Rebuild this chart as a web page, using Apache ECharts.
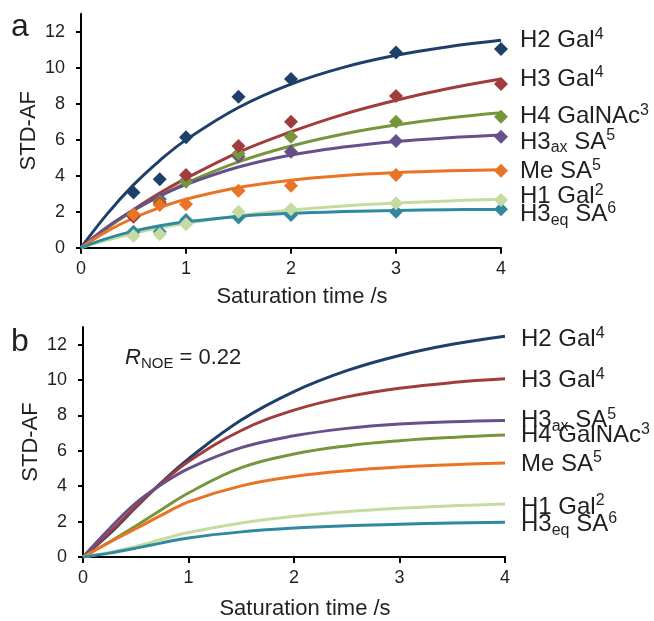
<!DOCTYPE html>
<html>
<head>
<meta charset="utf-8">
<script src="https://cdn.jsdelivr.net/npm/echarts@6/dist/echarts.min.js"></script>
<style>
html, body { margin: 0; padding: 0; background: #fff; }
#chart { width: 654px; height: 621px; }
</style>
</head>
<body>
<div id="chart"></div>
<script>
// measured saturation times (s) and the time grid used to read the fitted curves
const tPts = [0.5, 0.75, 1, 1.5, 2, 3, 4];
const tFit = [0, 0.25, 0.5, 0.75, 1, 1.5, 2, 2.5, 3, 3.5, 4];
const xTicks = [0, 1, 2, 3, 4];
const yTicks = [0, 2, 4, 6, 8, 10, 12];

// panel a: experimental STD-AF points
const h2GalPts = [3.06, 3.80, 6.13, 8.39, 9.37, 10.85, 11.04];
const h3GalPts = [1.72, 2.45, 4.04, 5.65, 7.00, 8.43, 9.09];
const h4GalNAcPts = [1.85, 2.55, 3.67, 5.24, 6.17, 7.00, 7.28];
const h3axSAPts = [1.80, 2.69, 3.72, 5.06, 5.33, 5.93, 6.17];
const meSAPts = [1.85, 2.37, 2.41, 3.17, 3.44, 4.04, 4.28];
const h1GalPts = [0.65, 0.75, 1.30, 2.00, 2.13, 2.47, 2.65];
const h3eqSAPts = [0.89, 0.89, 1.54, 1.68, 1.81, 2.00, 2.13];

// panel a: fitted curves
const h2GalFit = [0, 1.88, 3.49, 4.84, 5.99, 7.79, 9.09, 10.02, 10.69, 11.17, 11.52];
const h3GalFit = [0, 1.11, 2.11, 3.03, 3.85, 5.30, 6.44, 7.41, 8.19, 8.84, 9.37];
const h4GalNAcFit = [0, 1.10, 2.05, 2.87, 3.59, 4.77, 5.65, 6.32, 6.82, 7.21, 7.50];
const h3axSAFit = [0, 1.15, 2.09, 2.87, 3.51, 4.48, 5.15, 5.59, 5.90, 6.11, 6.26];
const meSAFit = [0, 0.92, 1.65, 2.23, 2.69, 3.34, 3.75, 4.01, 4.17, 4.27, 4.33];
const h1GalFit = [0, 0.42, 0.79, 1.10, 1.36, 1.78, 2.09, 2.32, 2.48, 2.60, 2.69];
const h3eqSAFit = [0, 0.52, 0.92, 1.22, 1.44, 1.74, 1.91, 2.01, 2.07, 2.11, 2.12];

// panel b: simulated curves (R_NOE = 0.22)
const h2GalSim = [0, 1.30, 2.80, 4.25, 5.55, 7.74, 9.35, 10.53, 11.39, 12.02, 12.48];
const h3GalSim = [0, 1.38, 2.85, 4.20, 5.40, 7.15, 8.30, 9.05, 9.54, 9.86, 10.07];
const h3axSASim = [0, 1.60, 3.05, 4.12, 5.00, 6.18, 6.85, 7.27, 7.52, 7.65, 7.72];
const h4GalNAcSim = [0, 0.85, 1.75, 2.70, 3.62, 5.05, 5.82, 6.28, 6.57, 6.76, 6.89];
const meSASim = [0, 0.82, 1.60, 2.38, 3.12, 4.02, 4.55, 4.88, 5.09, 5.22, 5.31];
const h1GalSim = [0, 0.26, 0.60, 1.00, 1.38, 1.92, 2.30, 2.56, 2.75, 2.89, 3.00];
const h3eqSASim = [0, 0.22, 0.50, 0.80, 1.08, 1.42, 1.64, 1.77, 1.85, 1.92, 1.96];

// label texts (rich text: b = normal, sup / sub)
const labH2Gal = '{b|H2 Gal}{sup|4}';
const labH3Gal = '{b|H3 Gal}{sup|4}';
const labH4GalNAc = '{b|H4 GalNAc}{sup|3}';
const labH3axSA = '{b|H3}{sub|ax}{b| SA}{sup|5}';
const labMeSA = '{b|Me SA}{sup|5}';
const labH1Gal = '{b|H1 Gal}{sup|2}';
const labH3eqSA = '{b|H3}{sub|eq}{b| SA}{sup|6}';

const FONT = "'Liberation Sans', Arial, Helvetica, sans-serif";
const TXT = '#231f20';
const C = {
  navy: '#1f3f6b',
  red: '#a03c3c',
  green: '#77963c',
  purple: '#67508a',
  orange: '#ea7425',
  lime: '#c5dba0',
  teal: '#3189a0'
};

const rich = {
  b: { fontSize: 24, color: TXT, fontFamily: FONT, lineHeight: 28 },
  sup: { fontSize: 16, color: TXT, fontFamily: FONT, verticalAlign: 'top', lineHeight: 16 },
  sub: { fontSize: 16, color: TXT, fontFamily: FONT, verticalAlign: 'bottom', lineHeight: 14 }
};

let pair = (xs, ys) => xs.map((x, i) => [x, ys[i]]);

let fitLine = (name, data, color, grid, text, dy) => ({
  name: name,
  type: 'line',
  xAxisIndex: grid,
  yAxisIndex: grid,
  data: pair(tFit, data),
  smooth: 0.4,
  symbol: 'none',
  lineStyle: { color: color, width: 3 },
  z: 2,
  endLabel: {
    show: true,
    formatter: text,
    distance: grid === 0 ? 19 : 16,
    offset: [0, dy],
    rich: rich
  }
});

let pointSeries = (name, data, color) => ({
  name: name,
  type: 'scatter',
  xAxisIndex: 0,
  yAxisIndex: 0,
  data: pair(tPts, data),
  symbol: 'diamond',
  symbolSize: 14,
  itemStyle: { color: color, opacity: 1 },
  z: 3
});

let xAxisCfg = (grid) => ({
  type: 'value',
  gridIndex: grid,
  min: 0,
  max: 4,
  interval: 1,
  name: 'Saturation time /s',
  nameLocation: 'middle',
  nameGap: grid === 0 ? 38 : 41,
  nameTextStyle: { fontSize: 22, color: TXT, fontFamily: FONT, padding: [0, 0, 0, 22] },
  axisLine: { show: true, lineStyle: { color: '#000', width: 2 } },
  axisTick: { show: true, length: 6, lineStyle: { color: '#000', width: 2 }, customValues: xTicks },
  axisLabel: { fontSize: 18, color: TXT, fontFamily: FONT, margin: 12, customValues: xTicks },
  splitLine: { show: false }
});

let yAxisCfg = (grid) => ({
  type: 'value',
  gridIndex: grid,
  min: 0,
  max: 13,
  interval: 2,
  name: 'STD-AF',
  nameLocation: 'middle',
  nameGap: 41,
  nameMoveOverlap: false,
  nameTextStyle: { fontSize: 22, color: TXT, fontFamily: FONT },
  axisLine: { show: true, lineStyle: { color: '#000', width: 2 } },
  axisTick: { show: true, length: 5, lineStyle: { color: '#000', width: 2 }, customValues: yTicks },
  axisLabel: { fontSize: 18, color: TXT, fontFamily: FONT, margin: 16, customValues: yTicks },
  splitLine: { show: false }
});

let option = {
  backgroundColor: '#fff',
  animation: false,
  title: [
    { text: 'a', left: 6, top: 6, textStyle: { fontSize: 32, fontWeight: 'normal', color: TXT, fontFamily: FONT } },
    { text: 'b', left: 6, top: 321, textStyle: { fontSize: 32, fontWeight: 'normal', color: TXT, fontFamily: FONT } },
    {
      text: '{r|R}{s|NOE}{n| = 0.22}',
      left: 120,
      top: 340,
      textStyle: {
        fontWeight: 'normal',
        rich: {
          r: { fontSize: 22, fontStyle: 'italic', fontWeight: 'normal', color: TXT, fontFamily: FONT, lineHeight: 26 },
          s: { fontSize: 15, fontWeight: 'normal', color: TXT, fontFamily: FONT, verticalAlign: 'bottom', lineHeight: 12 },
          n: { fontSize: 22, fontWeight: 'normal', color: TXT, fontFamily: FONT, lineHeight: 26 }
        }
      }
    }
  ],
  grid: [
    { left: 81, top: 13.7, width: 420, height: 234 },
    { left: 83, top: 327, width: 422, height: 234 }
  ],
  xAxis: [xAxisCfg(0), xAxisCfg(1)],
  yAxis: [yAxisCfg(0), yAxisCfg(1)],
  series: [
    // panel a curves
    fitLine('H2 Gal fit', h2GalFit, C.navy, 0, labH2Gal, 0),
    fitLine('H3 Gal fit', h3GalFit, C.red, 0, labH3Gal, 0),
    fitLine('H4 GalNAc fit', h4GalNAcFit, C.green, 0, labH4GalNAc, 4),
    fitLine('H3ax SA fit', h3axSAFit, C.purple, 0, labH3axSA, 7),
    fitLine('Me SA fit', meSAFit, C.orange, 0, labMeSA, 2),
    fitLine('H1 Gal fit', h1GalFit, C.lime, 0, labH1Gal, -3),
    fitLine('H3eq SA fit', h3eqSAFit, C.teal, 0, labH3eqSA, 5),
    // panel a points
    pointSeries('H3eq SA', h3eqSAPts, C.teal),
    pointSeries('H1 Gal', h1GalPts, C.lime),
    pointSeries('H3ax SA', h3axSAPts, C.purple),
    pointSeries('H4 GalNAc', h4GalNAcPts, C.green),
    pointSeries('H3 Gal', h3GalPts, C.red),
    pointSeries('Me SA', meSAPts, C.orange),
    pointSeries('H2 Gal', h2GalPts, C.navy),
    // panel b curves
    fitLine('H2 Gal sim', h2GalSim, C.navy, 1, labH2Gal, 3),
    fitLine('H3 Gal sim', h3GalSim, C.red, 1, labH3Gal, 2),
    fitLine('H3ax SA sim', h3axSASim, C.purple, 1, labH3axSA, 0),
    fitLine('H4 GalNAc sim', h4GalNAcSim, C.green, 1, labH4GalNAc, 0),
    fitLine('Me SA sim', meSASim, C.orange, 1, labMeSA, 1),
    fitLine('H1 Gal sim', h1GalSim, C.lime, 1, labH1Gal, 3),
    fitLine('H3eq SA sim', h3eqSASim, C.teal, 1, labH3eqSA, 2)
  ]
};

let myChart = echarts.init(document.getElementById('chart'), null, { renderer: 'canvas' });
myChart.setOption(option);
</script>
</body>
</html>
